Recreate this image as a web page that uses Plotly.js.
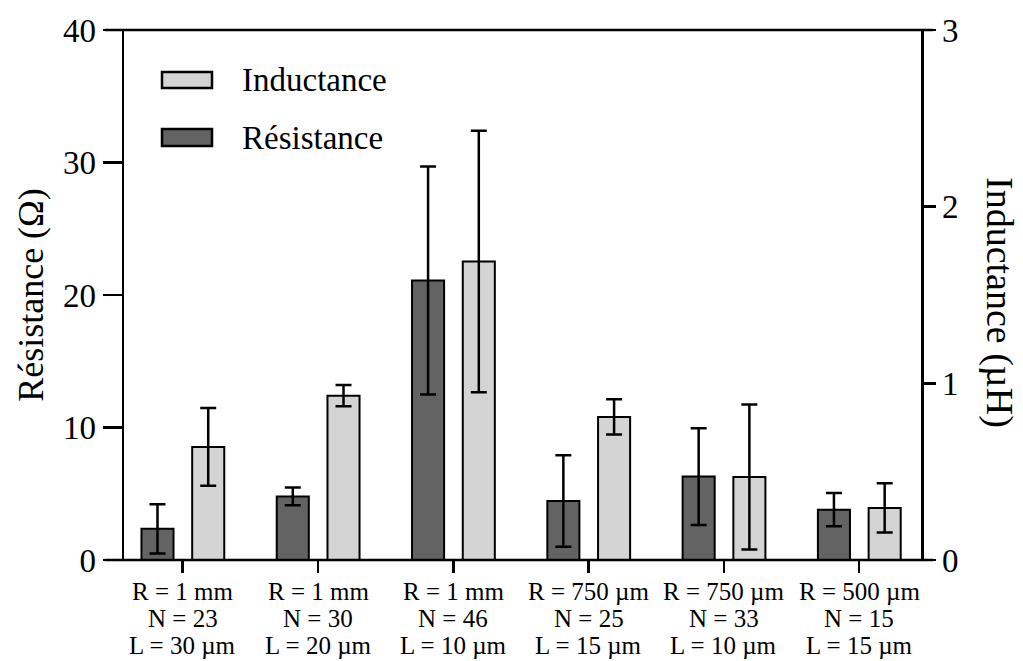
<!DOCTYPE html>
<html>
<head>
<meta charset="utf-8">
<script src="https://cdn.plot.ly/plotly-3.0.1.min.js"></script>
<style>html,body{margin:0;padding:0;background:#fff;}#chart{width:1023px;height:661px;}</style>
</head>
<body>
<div id="chart"></div>
<script>
// ---- data ----
const radiusLabels = ['R = 1 mm', 'R = 1 mm', 'R = 1 mm', 'R = 750 µm', 'R = 750 µm', 'R = 500 µm'];
const turnsLabels  = ['N = 23', 'N = 30', 'N = 46', 'N = 25', 'N = 33', 'N = 15'];
const widthLabels  = ['L = 30 µm', 'L = 20 µm', 'L = 10 µm', 'L = 15 µm', 'L = 10 µm', 'L = 15 µm'];
const categories = radiusLabels.map((r, i) => r + ' | ' + turnsLabels[i] + ' | ' + widthLabels[i]);

const resistance    = [2.35, 4.8, 21.1, 4.45, 6.3, 3.8];      // Ω
const resistanceSD  = [1.85, 0.67, 8.6, 3.45, 3.65, 1.25];
const inductance    = [0.64, 0.93, 1.69, 0.81, 0.47, 0.295];  // µH
const inductanceSD  = [0.22, 0.06, 0.74, 0.10, 0.41, 0.14];

const seriesNames = ['Résistance', 'Inductance'];
const leftTitle = 'Résistance (Ω)';
const rightTitle = 'Inductance (µH)';
const leftTicks = [0, 10, 20, 30, 40];
const rightTicks = [0, 1, 2, 3];

// ---- styling ----
const FONT = 'Liberation Serif, Times New Roman, serif';
const DARK = '#636363', LIGHT = '#d4d4d4';
const plotL = 124, plotR = 921, plotT = 30, plotB = 560;
const W = 1023, H = 661;
const pw = plotR - plotL, ph = plotB - plotT;
const px = x => (x - plotL) / pw;
const py = y => (plotB - y) / ph;

const errStyle = {type: 'data', visible: true, color: '#000', thickness: 2.5, width: 8};

const traces = [
  {
    type: 'bar', name: seriesNames[0], x: categories, y: resistance, yaxis: 'y',
    width: 0.237, offset: -0.305,
    marker: {color: DARK, line: {color: '#000', width: 2}},
    error_y: Object.assign({array: resistanceSD}, errStyle),
    showlegend: false
  },
  {
    type: 'bar', name: seriesNames[1], x: categories, y: inductance, yaxis: 'y2',
    width: 0.237, offset: 0.07,
    marker: {color: LIGHT, line: {color: '#000', width: 2}},
    error_y: Object.assign({array: inductanceSD}, errStyle),
    showlegend: false
  }
];

const annotations = [];
const rowY = [591, 618, 645];
[radiusLabels, turnsLabels, widthLabels].forEach((arr, r) => {
  arr.forEach((t, i) => {
    annotations.push({
      x: categories[i], xref: 'x', y: py(rowY[r]), yref: 'paper',
      text: t, showarrow: false, xanchor: 'center', yanchor: 'middle',
      font: {family: FONT, size: 25, color: '#000'}
    });
  });
});
// legend text
annotations.push({x: px(240), xref: 'paper', y: py(80), yref: 'paper', text: seriesNames[1],
  showarrow: false, xanchor: 'left', yanchor: 'middle', font: {family: FONT, size: 33, color: '#000'}});
annotations.push({x: px(240), xref: 'paper', y: py(138), yref: 'paper', text: seriesNames[0],
  showarrow: false, xanchor: 'left', yanchor: 'middle', font: {family: FONT, size: 33, color: '#000'}});
// right axis title
annotations.push({x: px(1000), xref: 'paper', y: py(302), yref: 'paper', text: rightTitle,
  textangle: 90, showarrow: false, xanchor: 'center', yanchor: 'middle',
  font: {family: FONT, size: 38, color: '#000'}});

const shapes = [
  // top and bottom frame lines (extend to tick ends)
  {type: 'line', xref: 'paper', yref: 'paper', x0: px(105), x1: px(933), y0: 0, y1: 0, line: {color: '#000', width: 2.5}},
  {type: 'line', xref: 'paper', yref: 'paper', x0: px(105), x1: px(933), y0: 1, y1: 1, line: {color: '#000', width: 2.5}},
  // legend swatches
  {type: 'rect', xref: 'paper', yref: 'paper', x0: px(162), x1: px(212), y0: py(88), y1: py(72),
   fillcolor: LIGHT, line: {color: '#000', width: 2.5}},
  {type: 'rect', xref: 'paper', yref: 'paper', x0: px(162), x1: px(212), y0: py(146), y1: py(129),
   fillcolor: DARK, line: {color: '#000', width: 2.5}}
];

const layout = {
  width: W, height: H,
  margin: {l: plotL, r: W - plotR, t: plotT, b: H - plotB, pad: 0},
  paper_bgcolor: '#fff', plot_bgcolor: '#fff',
  barmode: 'overlay',
  showlegend: false,
  font: {family: FONT, color: '#000'},
  xaxis: {
    type: 'category', categoryorder: 'array', categoryarray: categories,
    range: [-0.434, 5.457], showline: false, showgrid: false, zeroline: false,
    ticks: 'outside', ticklen: 12, tickwidth: 2.5, tickcolor: '#000',
    showticklabels: false, fixedrange: true
  },
  yaxis: {
    range: [0, 40], tickvals: leftTicks, ticks: 'outside', ticklen: 19, tickwidth: 2.5,
    tickcolor: '#000', showline: true, linewidth: 2.5, linecolor: '#000',
    showgrid: false, zeroline: false, tickfont: {family: FONT, size: 33, color: '#000'},
    title: {text: leftTitle, font: {family: FONT, size: 36, color: '#000'}, standoff: 9}
  },
  yaxis2: {
    overlaying: 'y', side: 'right', range: [0, 3], tickvals: rightTicks,
    ticks: 'outside', ticklen: 12, tickwidth: 2.5, tickcolor: '#000',
    showline: true, linewidth: 2.5, linecolor: '#000', showgrid: false, zeroline: false,
    tickfont: {family: FONT, size: 33, color: '#000'}
  },
  annotations: annotations,
  shapes: shapes
};

Plotly.newPlot('chart', traces, layout, {displayModeBar: false, staticPlot: true});
</script>
</body>
</html>
